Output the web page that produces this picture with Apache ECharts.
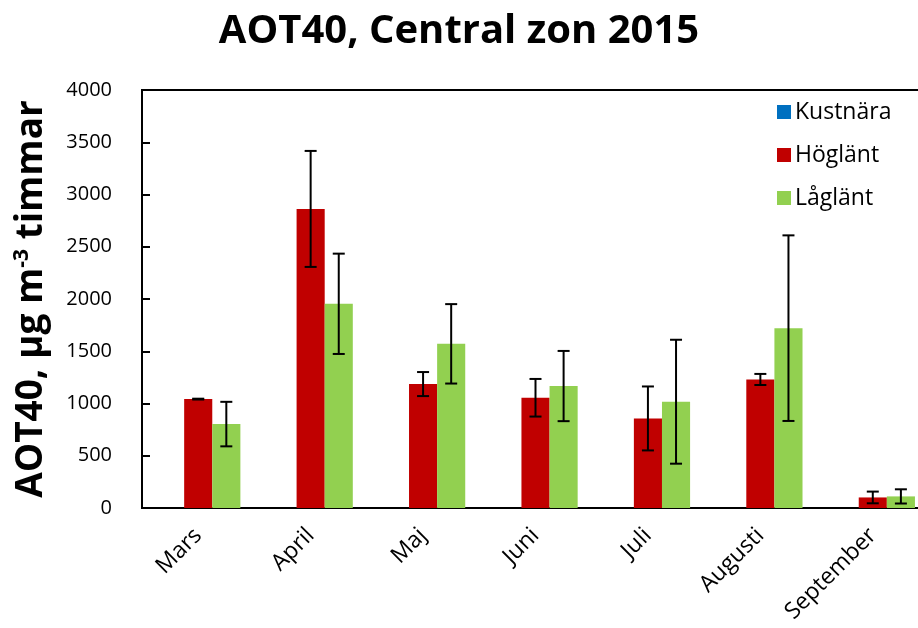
<!DOCTYPE html>
<html>
<head>
<meta charset="utf-8">
<script src="https://cdn.jsdelivr.net/npm/echarts@6/dist/echarts.min.js"></script>
<style>html,body{margin:0;padding:0;background:#fff}#c{width:918px;height:628px}</style>
</head>
<body>
<div id="c"></div>
<script>
const months = ['Mars', 'April', 'Maj', 'Juni', 'Juli', 'Augusti', 'September'];
const kustnara = ['-', '-', '-', '-', '-', '-', '-'];
const hoglant = [1042, 2862, 1186, 1055, 857, 1230, 101];
const hoglantErr = [4, 555, 115, 180, 306, 53, 56];
const laglant = [803, 1954, 1571, 1167, 1017, 1721, 111];
const laglantErr = [213, 480, 380, 336, 593, 888, 68];
const yTicks = [0, 500, 1000, 1500, 2000, 2500, 3000, 3500, 4000];

const FONT = 'Open Sans';
const chart = echarts.init(document.getElementById('c'));

function errRender(offsetFrac) {
  return function (params, api) {
    const x = api.value(0), lo = api.value(1), hi = api.value(2);
    const band = api.size([1, 0])[0];
    const pHi = api.coord([x, hi]);
    const pLo = api.coord([x, lo]);
    const cx = pHi[0] + band * offsetFrac;
    const cap = 6;
    const st = { stroke: '#000', lineWidth: 2 };
    return {
      type: 'group',
      children: [
        { type: 'line', shape: { x1: cx, y1: pHi[1], x2: cx, y2: pLo[1] }, style: st },
        { type: 'line', shape: { x1: cx - cap, y1: pHi[1], x2: cx + cap, y2: pHi[1] }, style: st },
        { type: 'line', shape: { x1: cx - cap, y1: pLo[1], x2: cx + cap, y2: pLo[1] }, style: st }
      ]
    };
  };
}

chart.setOption({
  animation: false,
  backgroundColor: '#fff',
  textStyle: { fontFamily: FONT },
  title: {
    text: 'AOT40, Central zon 2015',
    left: 'center',
    top: 7,
    textStyle: { fontFamily: FONT, fontSize: 40, fontWeight: 'bold', color: '#000' }
  },
  legend: {
    orient: 'vertical',
    left: 772,
    top: 93,
    data: ['Kustnära', 'Höglänt', 'Låglänt'],
    icon: 'rect',
    itemWidth: 14,
    itemHeight: 14,
    itemGap: 15,
    textStyle: { fontFamily: FONT, fontSize: 23, color: '#000', lineHeight: 28, padding: [0, 0, 0, -1] }
  },
  grid: {
    left: 142, top: 90, width: 787, height: 418,
    outerBoundsMode: 'none',
    containLabel: false,
    show: true, borderColor: '#000', borderWidth: 2
  },
  xAxis: {
    type: 'category',
    data: months,
    axisLine: { lineStyle: { color: '#000', width: 2 } },
    axisTick: { show: false },
    axisLabel: { rotate: 45, interval: 0, fontSize: 23, color: '#000', margin: 24, fontFamily: FONT }
  },
  yAxis: {
    type: 'value',
    min: yTicks[0],
    max: yTicks[yTicks.length - 1],
    interval: 500,
    splitLine: { show: false },
    axisLine: { show: true, lineStyle: { color: '#000', width: 2 } },
    axisTick: { show: true, inside: true, length: 8, lineStyle: { color: '#000', width: 2 } },
    axisLabel: { fontSize: 20, color: '#000', margin: 30, fontFamily: FONT, formatter: v => String(v) },
    name: '{a|AOT40, µg m}{s|-3}{a| timmar}',
    nameLocation: 'middle',
    nameGap: 89,
    nameTextStyle: {
      rich: {
        a: { fontFamily: FONT, fontSize: 37, fontWeight: 'bold', color: '#000', lineHeight: 44 },
        s: { fontFamily: FONT, fontSize: 21, fontWeight: 'bold', color: '#000', lineHeight: 44, padding: [0, 0, 18, 0] }
      }
    }
  },
  series: [
    { name: 'Kustnära', type: 'bar', data: kustnara, itemStyle: { color: '#0070C0' }, barGap: '0%', barCategoryGap: '25%' },
    { name: 'Höglänt', type: 'bar', data: hoglant, itemStyle: { color: '#C00000' }, barGap: '0%', barCategoryGap: '25%' },
    { name: 'Låglänt', type: 'bar', data: laglant, itemStyle: { color: '#92D050' }, barGap: '0%', barCategoryGap: '25%' },
    {
      name: 'errH', type: 'custom', renderItem: errRender(0), z: 10,
      encode: { x: 0, y: [1, 2] },
      data: months.map((m, i) => [i, hoglant[i] - hoglantErr[i], hoglant[i] + hoglantErr[i]])
    },
    {
      name: 'errL', type: 'custom', renderItem: errRender(0.25), z: 10,
      encode: { x: 0, y: [1, 2] },
      data: months.map((m, i) => [i, laglant[i] - laglantErr[i], laglant[i] + laglantErr[i]])
    }
  ]
});
</script>
</body>
</html>
